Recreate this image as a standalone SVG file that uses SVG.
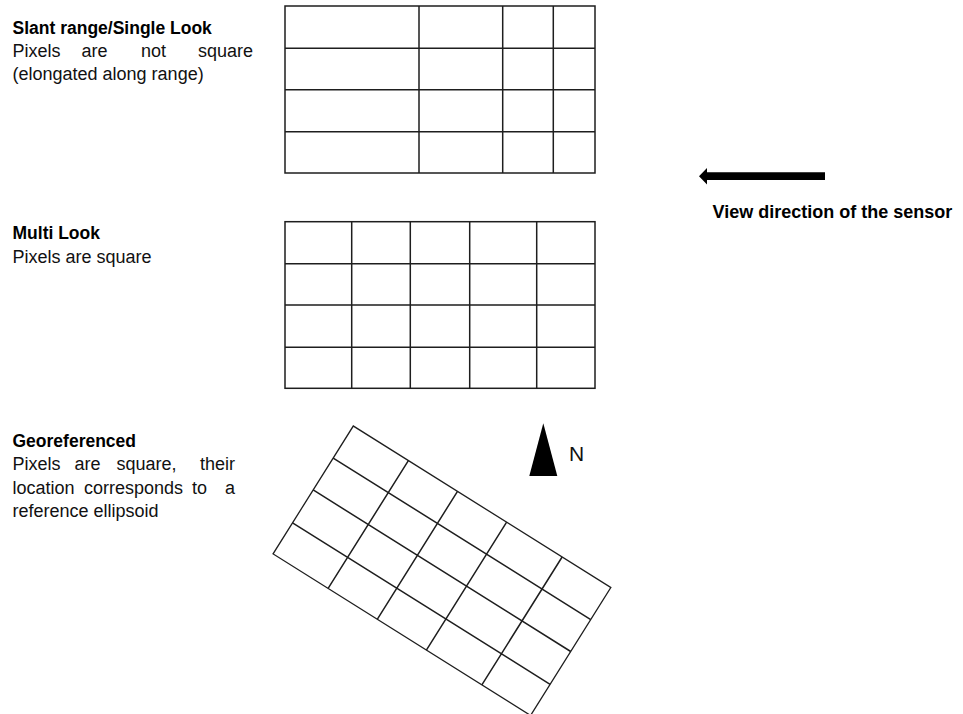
<svg xmlns="http://www.w3.org/2000/svg" width="963" height="714" viewBox="0 0 963 714">
  <style>
    .grid { fill: none; stroke: #1e1e1e; stroke-width: 1.5; }
    .title { font-family: "Liberation Sans", Arial, sans-serif; font-weight: bold; font-size: 17.5px; fill: #000; }
    .body { font-family: "Liberation Sans", Arial, sans-serif; font-size: 18px; fill: #111; }
    .mid { text-anchor: middle; }
    .end { text-anchor: end; }
  </style>
  <rect width="963" height="714" fill="#fff"/>

  <g id="label-slant">
    <text class="title" x="12.5" y="33.5">Slant range/Single Look</text>
    <text class="body" y="56.5"><tspan x="12.5">Pixels</tspan><tspan class="mid" x="94.5">are</tspan><tspan class="mid" x="153.5">not</tspan><tspan class="end" x="253">square</tspan></text>
    <text class="body" x="12.5" y="79.5">(elongated along range)</text>
  </g>

  <g id="grid-slant">
    <rect class="grid" x="285" y="6" width="310" height="167"/>
    <path class="grid" d="M285 48.3H595M285 89.7H595M285 131.7H595M419 6V173M502.7 6V173M553.3 6V173"/>
  </g>

  <g id="label-multi">
    <text class="title" x="12.5" y="239">Multi Look</text>
    <text class="body" x="12.5" y="263">Pixels are square</text>
  </g>

  <g id="grid-multi">
    <rect class="grid" x="285" y="221.7" width="310" height="166.6"/>
    <path class="grid" d="M285 263.7H595M285 305H595M285 347.3H595M351.7 221.7V388.3M410.3 221.7V388.3M469.7 221.7V388.3M536.7 221.7V388.3"/>
  </g>

  <g id="label-geo">
    <text class="title" x="12.5" y="447">Georeferenced</text>
    <text class="body" y="470"><tspan x="12.5">Pixels</tspan><tspan class="mid" x="87.5">are</tspan><tspan class="mid" x="146.5">square,</tspan><tspan class="end" x="235">their</tspan></text>
    <text class="body" y="493.5"><tspan x="12.5">location</tspan><tspan class="mid" x="133.5">corresponds</tspan><tspan class="mid" x="199.5">to</tspan><tspan class="end" x="235">a</tspan></text>
    <text class="body" x="12.5" y="517">reference ellipsoid</text>
  </g>

  <g id="grid-geo" transform="translate(353.3 426) rotate(32.1)">
    <rect class="grid" x="0" y="0" width="304" height="151" style="stroke-width:1.3"/>
    <path class="grid" d="M0 37.8H304M0 75.5H304M0 114.3H304M65 0V151M123 0V151M181 0V151M246.5 0V151"/>
  </g>

  <g id="view-direction">
    <path d="M825 172.3H707V168L699 176.2L707 184.5V180H825Z" fill="#000"/>
    <text class="title" x="712.5" y="218" style="font-size:18px">View direction of the sensor</text>
  </g>

  <g id="north-arrow">
    <polygon points="543.3,423.3 529.3,476 557.3,476" fill="#000"/>
    <text x="569" y="461" style="font-family:'Liberation Sans', Arial, sans-serif; font-size:21px; fill:#111">N</text>
  </g>
</svg>
